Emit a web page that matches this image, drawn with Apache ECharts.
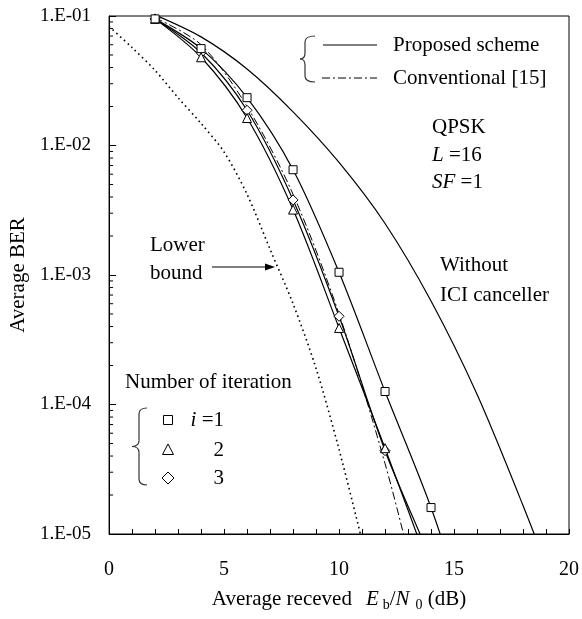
<!DOCTYPE html>
<html>
<head>
<meta charset="utf-8">
<script src="https://cdn.jsdelivr.net/npm/echarts@6/dist/echarts.min.js"></script>
<style>
    html, body { margin: 0; padding: 0; background: #fff; }
    #main { width: 582px; height: 619px; }
</style>
</head>
<body>
<div id="main"></div>
<script>
// Eb/N0 points (dB)
const ebno = [2, 4, 6, 8, 10, 12, 14, 16];
const ebnoWithout = [2, 4, 6, 8, 10, 12, 14, 16, 18, 20];
const ebnoBound = [0, 1, 2, 3, 4, 5, 6, 7, 8, 9, 10, 11];

// average BER
const iter1 = [0.095, 0.056, 0.0234, 0.0065, 1.05e-3, 1.26e-4, 1.6e-5, 1.3e-6];
const iter2 = [0.095, 0.048, 0.0163, 0.0032, 3.9e-4, 4.6e-5, 5.0e-6, 5e-7];
const iter3 = [0.095, 0.052, 0.0187, 0.0038, 4.8e-4, 4.4e-5, 6.3e-6, 8e-7];
const conventional = [0.097, 0.06, 0.02, 0.0042, 5.0e-4, 3.5e-5, 1.5e-6, 1e-7];
const withoutIci = [0.102, 0.069, 0.039, 0.0182, 0.0074, 0.0025, 6.3e-4, 1.2e-4, 1.66e-5, 2e-6];
const lowerBound = [0.083, 0.057, 0.038, 0.0234, 0.0148, 0.0089, 0.0042, 0.00158, 6.0e-4, 1.9e-4, 4.5e-5, 8.9e-6];

const xTicks = [0, 5, 10, 15, 20];
const yTicks = [1e-5, 1e-4, 1e-3, 1e-2, 1e-1];

const FONT = 'Liberation Serif';

const pairs = (xs, ys) => xs.map((x, i) => [x, ys[i]]);

const lineSeries = (name, xs, ys, extra) => Object.assign({
    name: name,
    type: 'line',
    data: pairs(xs, ys),
    smooth: 0.3,
    showSymbol: false,
    clip: true,
    lineStyle: { color: '#000', width: 1.2 },
    itemStyle: { color: '#fff', borderColor: '#000', borderWidth: 1 }
}, extra);

const chart = echarts.init(document.getElementById('main'));

const sub = pad => ({ fontFamily: FONT, fontSize: 14, color: '#000', verticalAlign: 'bottom', padding: [12, 0, 0, pad] });

const option = {
    animation: false,
    backgroundColor: '#fff',
    grid: {
        left: 103, right: 10, top: 16, bottom: 85,
        show: true, borderColor: '#000', borderWidth: 1
    },
    xAxis: {
        type: 'value',
        min: 0, max: 20, interval: 5,
        name: 'Average receved{e|E}{b|b}/{i|N}{z|0} (dB)',
        nameLocation: 'middle',
        nameGap: 52,
        nameTextStyle: {
            color: '#000', fontFamily: FONT, fontSize: 21,
            rich: {
                e: { fontStyle: 'italic', fontFamily: FONT, fontSize: 21, color: '#000', padding: [0, 0, 0, 14] },
                i: { fontStyle: 'italic', fontFamily: FONT, fontSize: 21, color: '#000' },
                b: sub(4),
                z: sub(6)
            }
        },
        axisLine: { onZero: false, lineStyle: { color: '#000', width: 1 } },
        axisTick: { inside: true, length: 5, lineStyle: { color: '#000' } },
        minorTick: { show: true, splitNumber: 5, length: 5, lineStyle: { color: '#000' } },
        splitLine: { show: false },
        axisLabel: {
            color: '#000', fontFamily: FONT, fontSize: 20, margin: 26,
            formatter: v => xTicks.includes(v) ? String(v) : ''
        }
    },
    yAxis: {
        type: 'log',
        logBase: 10,
        min: yTicks[0], max: yTicks[yTicks.length - 1],
        name: 'Average BER',
        nameLocation: 'middle',
        nameRotate: 90,
        nameGap: 75,
        nameTextStyle: { color: '#000', fontFamily: FONT, fontSize: 21 },
        axisLine: { show: true, lineStyle: { color: '#000', width: 1 } },
        axisTick: { inside: true, length: 7, lineStyle: { color: '#000' } },
        splitLine: { show: false },
        axisLabel: {
            color: '#000', fontFamily: FONT, fontSize: 19, margin: 18,
            formatter: v => {
                const e = Math.round(Math.log10(v));
                return '1.E-' + String(-e).padStart(2, '0');
            }
        }
    },
    series: [
        lineSeries('Without ICI canceller', ebnoWithout, withoutIci),
        lineSeries('Lower bound', ebnoBound, lowerBound, {
            lineStyle: { color: '#000', width: 1.6, type: [1.6, 3.4] }
        }),
        lineSeries('Conventional [15]', ebno, conventional, {
            lineStyle: { color: '#000', width: 1, type: [8, 3, 2, 3] }
        }),
        lineSeries('i=3', ebno, iter3, { showSymbol: true, symbol: 'diamond', symbolSize: 10, z: 4 }),
        lineSeries('i=2', ebno, iter2, { showSymbol: true, symbol: 'triangle', symbolSize: 9, z: 4 }),
        lineSeries('i=1', ebno, iter1, { showSymbol: true, symbol: 'rect', symbolSize: 8, z: 4 })
    ]
};

chart.setOption(option);

// annotation pieces
const txt = (x, y, text, extra) => ({
    type: 'text', x: x, y: y, z: 10,
    style: Object.assign({
        text: text, fill: '#000', fontFamily: FONT, fontSize: 21,
        verticalAlign: 'middle', align: 'left',
        rich: { i: { fontStyle: 'italic', fontFamily: FONT, fontSize: 21, fill: '#000' } }
    }, extra)
});
const seg = (x1, y1, x2, y2, style) => ({
    type: 'line', z: 10,
    shape: { x1: x1, y1: y1, x2: x2, y2: y2 },
    style: Object.assign({ stroke: '#000', lineWidth: 1 }, style)
});
const curve = (x1, y1, cx, cy, x2, y2) => ({
    type: 'bezierCurve', z: 10,
    shape: { x1: x1, y1: y1, cpx1: cx, cpy1: cy, x2: x2, y2: y2 },
    style: { stroke: '#333', lineWidth: 1.2, fill: null }
});
function brace(xv, y1, y2, h, t, r) {
    const ym = (y1 + y2) / 2;
    const st = { stroke: '#333', lineWidth: 1.2 };
    return [
        curve(xv + h, y1, xv, y1, xv, y1 + r),
        seg(xv, y1 + r, xv, ym - r, st),
        curve(xv, ym - r, xv, ym, xv - t, ym),
        curve(xv - t, ym, xv, ym, xv, ym + r),
        seg(xv, ym + r, xv, y2 - r, st),
        curve(xv, y2 - r, xv, y2, xv + h, y2)
    ];
}

const els = [];
// top legend
els.push(...brace(305, 36, 82, 10, 5, 6));
els.push(seg(323, 45, 377, 45, { lineWidth: 1.2 }));
els.push(seg(322, 78, 377, 78, { lineWidth: 1, lineDash: [8, 3, 2, 3] }));
els.push(txt(393, 45, 'Proposed scheme'));
els.push(txt(393, 78, 'Conventional [15]'));
// parameters
els.push(txt(432, 127, 'QPSK'));
els.push(txt(432, 155, '{i|L} =16'));
els.push(txt(432, 182, '{i|SF} =1'));
els.push(txt(440, 265, 'Without'));
els.push(txt(440, 295, 'ICI canceller'));
// lower bound arrow
els.push(txt(150, 245, 'Lower'));
els.push(txt(150, 273, 'bound'));
els.push(seg(212, 267, 267, 267, { lineWidth: 1.2 }));
els.push({
    type: 'polygon', z: 10,
    shape: { points: [[275, 267], [265, 263.5], [265, 270.5]] },
    style: { fill: '#000' }
});
// iteration legend
els.push(txt(125, 382, 'Number of iteration'));
els.push(...brace(139, 408, 485, 8, 7, 6));
els.push({
    type: 'rect', z: 10,
    shape: { x: 163.5, y: 415.5, width: 9, height: 9 },
    style: { fill: '#fff', stroke: '#000', lineWidth: 1 }
});
els.push({
    type: 'polygon', z: 10,
    shape: { points: [[168, 444], [173.5, 454.5], [162.5, 454.5]] },
    style: { fill: '#fff', stroke: '#000', lineWidth: 1 }
});
els.push({
    type: 'polygon', z: 10,
    shape: { points: [[168, 472], [174, 478], [168, 484], [162, 478]] },
    style: { fill: '#fff', stroke: '#000', lineWidth: 1 }
});
els.push(txt(224, 420, '{i|i} =1', { align: 'right' }));
els.push(txt(224, 450, '2', { align: 'right' }));
els.push(txt(224, 478, '3', { align: 'right' }));

// minor ticks of the log axis at 2..9 of each decade
const x0 = chart.convertToPixel({ xAxisIndex: 0 }, 0);
for (let d = -5; d <= -2; d++) {
    for (let k = 2; k <= 9; k++) {
        const y = chart.convertToPixel({ yAxisIndex: 0 }, k * Math.pow(10, d));
        els.push(seg(x0, y, x0 + 4, y, { lineWidth: 1 }));
    }
}

chart.setOption({ graphic: { elements: els } });
</script>
</body>
</html>
